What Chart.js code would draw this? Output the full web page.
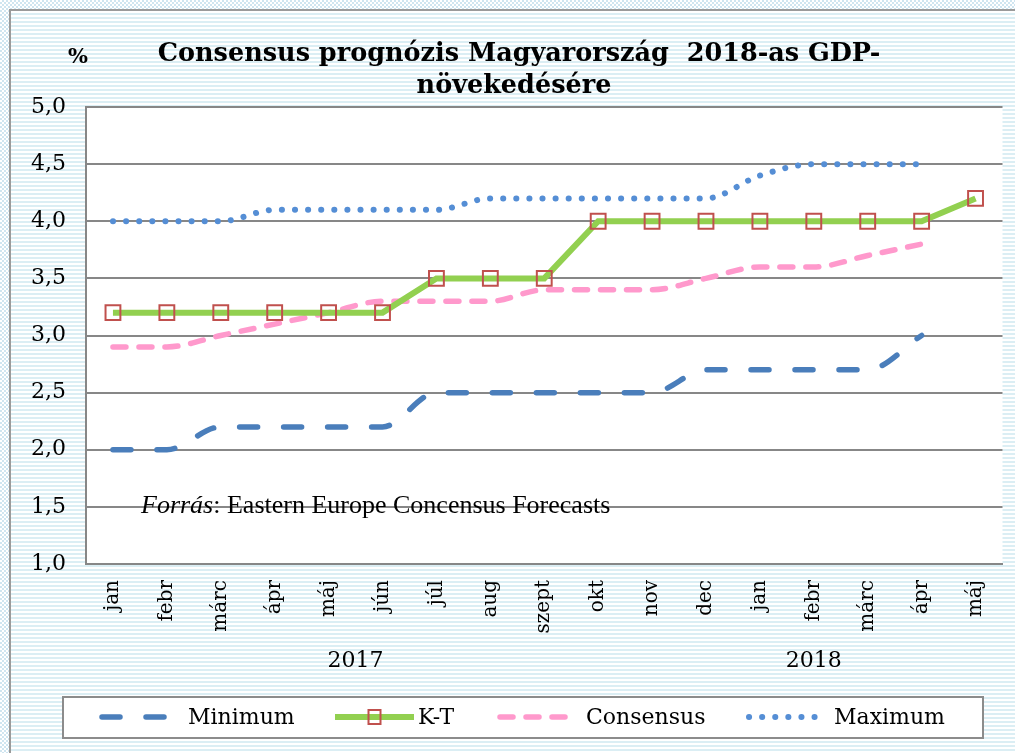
<!DOCTYPE html>
<html>
<head>
<meta charset="utf-8">
<script src="https://cdn.jsdelivr.net/npm/chart.js@4.4.1/dist/chart.umd.min.js"></script>
<style>
html, body { margin: 0; padding: 0; }
body {
    width: 1015px; height: 753px; overflow: hidden; position: relative;
    background: repeating-conic-gradient(#cfe5f0 0 25%, #ffffff 0 50%) 0 0 / 4px 4px;
}
#frame {
    position: absolute; left: 9px; top: 9px; width: 1006px; height: 744px;
    box-sizing: border-box;
    border-left: 2px solid #9a9a9a; border-top: 2px solid #9a9a9a;
    background: repeating-linear-gradient(to bottom, #ffffff 0 2px, #dbeef4 2px 4px);
}
canvas { position: absolute; left: 0; top: 0; }
</style>
</head>
<body>
<div id="frame"></div>
<canvas id="myChart" width="1015" height="753"></canvas>
<script>
const months = ['jan', 'febr', 'márc', 'ápr', 'máj', 'jún', 'júl', 'aug', 'szept', 'okt', 'nov', 'dec',
                'jan', 'febr', 'márc', 'ápr', 'máj'];
const minimum   = [2.0, 2.0, 2.2, 2.2, 2.2, 2.2, 2.5, 2.5, 2.5, 2.5, 2.5, 2.7, 2.7, 2.7, 2.7, 3.0, null];
const kt        = [3.2, 3.2, 3.2, 3.2, 3.2, 3.2, 3.5, 3.5, 3.5, 4.0, 4.0, 4.0, 4.0, 4.0, 4.0, 4.0, 4.2];
const consensus = [2.9, 2.9, 3.0, 3.1, 3.2, 3.3, 3.3, 3.3, 3.4, 3.4, 3.4, 3.5, 3.6, 3.6, 3.7, 3.8, null];
const maximum   = [4.0, 4.0, 4.0, 4.1, 4.1, 4.1, 4.1, 4.2, 4.2, 4.2, 4.2, 4.2, 4.4, 4.5, 4.5, 4.5, null];
const years = [
    { label: '2017', from: 0, to: 9 },
    { label: '2018', from: 10, to: 16 }
];
const titleLines = ['Consensus prognózis Magyarország  2018-as GDP-', 'növekedésére'];

const gridGray = '#878787';

// white plot area behind the lines
const plotBg = {
    id: 'plotBg',
    beforeDraw(chart) {
        const a = chart.chartArea;
        const c = chart.ctx;
        c.save();
        c.fillStyle = '#ffffff';
        c.fillRect(a.left, a.top, a.right - a.left, a.bottom - a.top);
        c.restore();
    }
};

// title, unit, year groups, source note and boxed legend
const extras = {
    id: 'extras',
    afterDraw(chart) {
        const c = chart.ctx;
        const xs = chart.scales.x;
        c.save();
        c.fillStyle = '#000';
        c.textAlign = 'center';
        c.textBaseline = 'alphabetic';
        c.font = 'bold 25.5px "DejaVu Serif"';
        c.fillText(titleLines[0], 519, 61);
        c.fillText(titleLines[1], 514, 93);
        c.font = 'bold 21px "DejaVu Serif"';
        c.fillText('%', 78, 63);

        c.font = '22px "DejaVu Serif"';
        c.textBaseline = 'middle';
        years.forEach(y => {
            const x = (xs.getPixelForValue(y.from) + xs.getPixelForValue(y.to)) / 2;
            c.fillText(y.label, x, 661);
        });

        // source
        c.textAlign = 'left';
        c.textBaseline = 'alphabetic';
        c.font = 'italic 26px "Liberation Serif"';
        c.fillText('Forrás', 141, 513);
        const w = c.measureText('Forrás').width;
        c.font = '26px "Liberation Serif"';
        c.fillText(': Eastern Europe Concensus Forecasts', 141 + w, 513);

        // legend box
        c.fillStyle = '#ffffff';
        c.fillRect(63, 697, 920, 41);
        c.strokeStyle = '#8c8c8c';
        c.lineWidth = 2;
        c.strokeRect(63, 697, 920, 41);

        const items = [
            { ds: 0, x0: 102, x1: 175, tx: 188 },
            { ds: 1, x0: 335, x1: 414, tx: 418 },
            { ds: 2, x0: 500, x1: 568, tx: 586 },
            { ds: 3, x0: 749, x1: 817, tx: 834 }
        ];
        const ly = 717;
        items.forEach(it => {
            const ds = chart.data.datasets[it.ds];
            c.save();
            c.strokeStyle = ds.borderColor;
            c.lineWidth = ds.borderWidth;
            c.lineCap = ds.borderCapStyle || 'butt';
            c.setLineDash(ds.borderDash || []);
            c.beginPath();
            c.moveTo(it.x0, ly);
            c.lineTo(it.x1, ly);
            c.stroke();
            c.restore();
            if (ds.pointStyle === 'rect') {
                c.strokeStyle = ds.pointBorderColor;
                c.lineWidth = 2;
                c.strokeRect((it.x0 + it.x1) / 2 - 6, ly - 7, 12, 14);
            }
            c.fillStyle = '#000';
            c.font = '22px "DejaVu Serif"';
            c.textBaseline = 'middle';
            c.fillText(ds.label, it.tx, ly + 1);
        });
        c.restore();
    }
};

const ctx = document.getElementById('myChart').getContext('2d');
new Chart(ctx, {
    type: 'line',
    data: {
        labels: months,
        datasets: [
            {
                label: 'Minimum',
                data: minimum,
                borderColor: '#4a7ebb',
                borderWidth: 5.5,
                borderDash: [18, 26],
                borderCapStyle: 'round',
                tension: 0.4,
                cubicInterpolationMode: 'monotone',
                pointRadius: 0
            },
            {
                label: 'K-T',
                data: kt,
                borderColor: '#92d050',
                borderWidth: 6,
                tension: 0,
                pointStyle: 'rect',
                pointRadius: 10.5,
                pointBorderWidth: 2,
                pointBorderColor: '#c0504d',
                pointBackgroundColor: 'rgba(255,255,255,0)'
            },
            {
                label: 'Consensus',
                data: consensus,
                borderColor: '#ff99cc',
                borderWidth: 5.5,
                borderDash: [13, 13],
                borderCapStyle: 'round',
                tension: 0.4,
                cubicInterpolationMode: 'monotone',
                pointRadius: 0
            },
            {
                label: 'Maximum',
                data: maximum,
                borderColor: '#558ed5',
                borderWidth: 6,
                borderDash: [0.1, 13],
                borderCapStyle: 'round',
                tension: 0.4,
                cubicInterpolationMode: 'monotone',
                pointRadius: 0
            }
        ]
    },
    options: {
        responsive: false,
        animation: false,
        layout: { padding: { left: 0, right: 12, top: 107, bottom: 0 } },
        plugins: {
            legend: { display: false },
            tooltip: { enabled: false }
        },
        scales: {
            x: {
                offset: true,
                grid: { display: false, offset: true },
                border: { display: true, color: gridGray, width: 2 },
                ticks: {
                    autoSkip: false,
                    minRotation: 90,
                    maxRotation: 90,
                    padding: 8,
                    color: '#000',
                    font: { family: 'DejaVu Serif', size: 20 }
                },
                afterFit(scale) { scale.height = 189; }
            },
            y: {
                min: 1,
                max: 5,
                ticks: {
                    stepSize: 0.5,
                    padding: 20,
                    color: '#000',
                    font: { family: 'DejaVu Serif', size: 22 },
                    callback: v => v.toFixed(1).replace('.', ',')
                },
                grid: { color: gridGray, lineWidth: 2, drawTicks: false },
                border: { color: gridGray, width: 2 },
                afterFit(scale) { scale.width = 86; }
            }
        }
    },
    plugins: [plotBg, extras]
});
</script>
</body>
</html>
